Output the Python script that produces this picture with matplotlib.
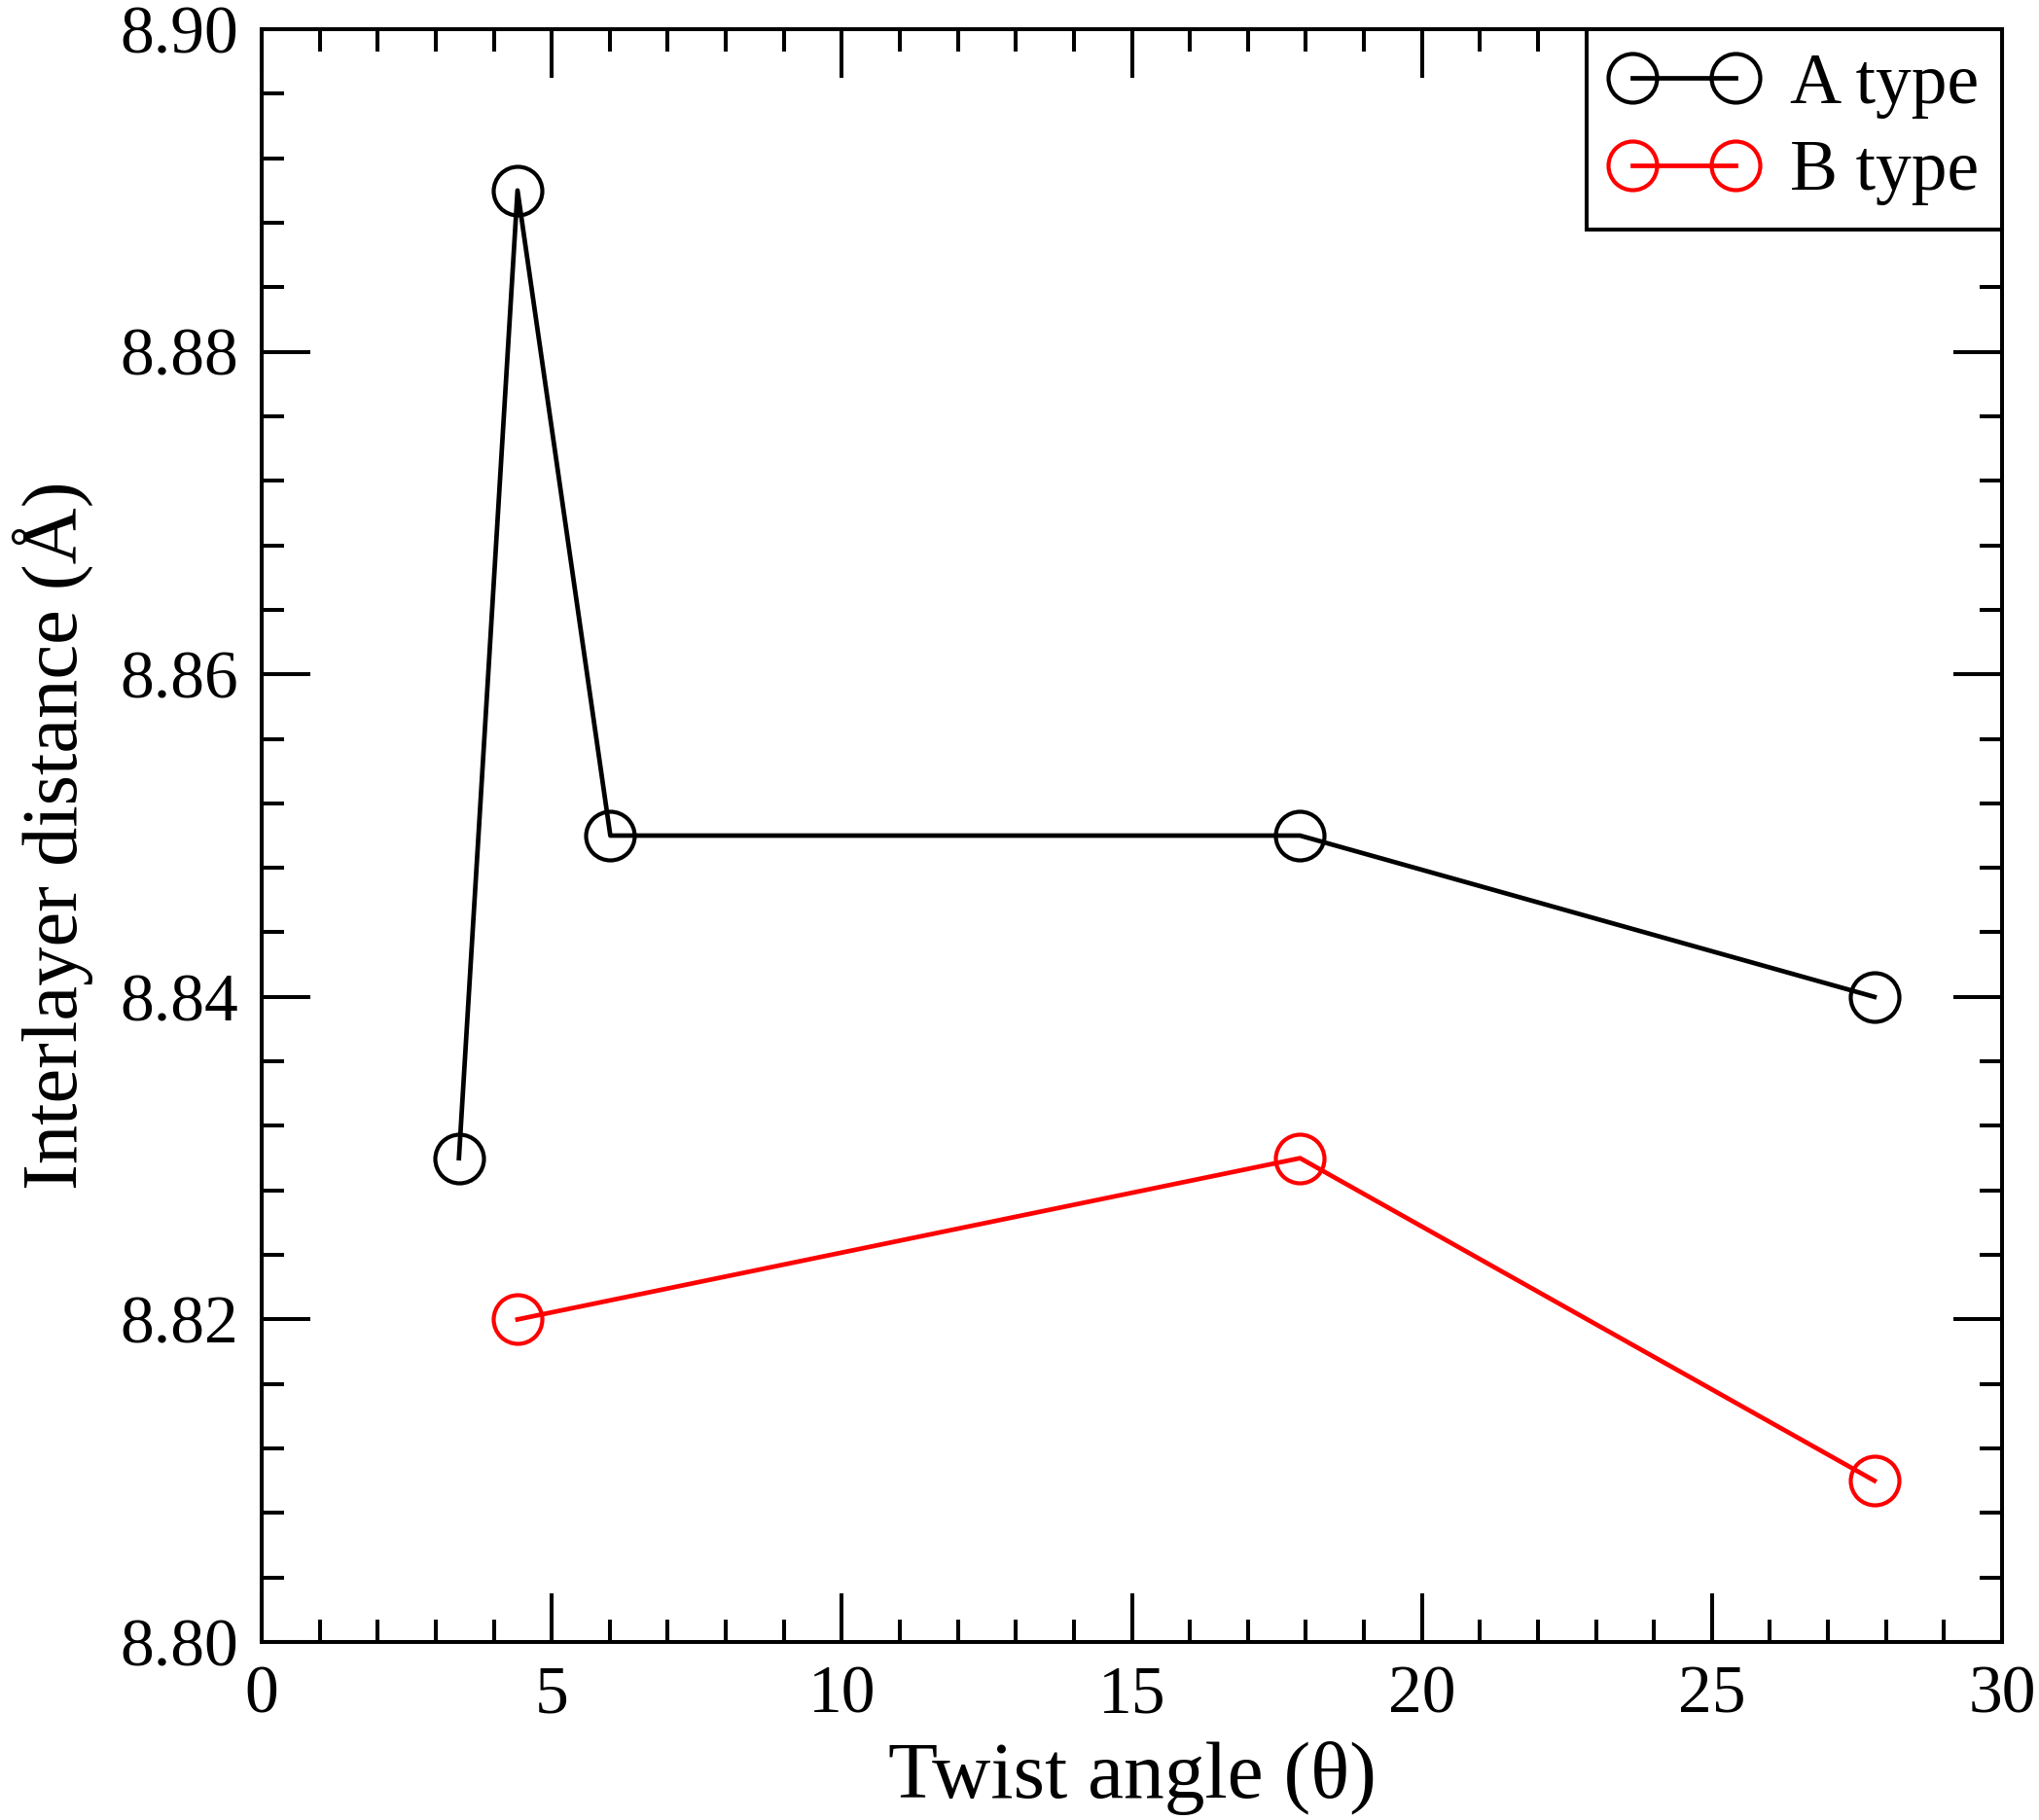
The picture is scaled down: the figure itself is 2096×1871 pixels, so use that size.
import matplotlib
matplotlib.use("Agg")
import matplotlib.pyplot as plt
from matplotlib.ticker import MultipleLocator

# Data
a_angle = [3.40, 4.41, 6.01, 17.90, 27.80]
a_dist = [8.83, 8.89, 8.85, 8.85, 8.84]
b_angle = [4.41, 17.90, 27.80]
b_dist = [8.82, 8.83, 8.81]
labels = ["A type", "B type"]

plt.rcParams['font.family'] = ['Liberation Serif', 'DejaVu Serif']
plt.rcParams['mathtext.fontset'] = 'stix'

W, H, DPI = 2096, 1871, 100
fig = plt.figure(figsize=(W / DPI, H / DPI), dpi=DPI)
ax = fig.add_axes([269 / W, 1 - 1688 / H, (2058 - 269) / W, (1688 - 30) / H])

lw = 3.4
ms = 36
ax.plot(a_angle, a_dist, color='black', lw=lw, marker='o', ms=ms, mfc='none',
        mec='black', mew=3.0, label=labels[0])
ax.plot(b_angle, b_dist, color='#ff0000', lw=lw, marker='o', ms=ms, mfc='none',
        mec='#ff0000', mew=3.0, label=labels[1])

ax.set_xlim(0, 30)
ax.set_ylim(8.80, 8.90)
ax.xaxis.set_major_locator(MultipleLocator(5))
ax.xaxis.set_minor_locator(MultipleLocator(1))
ax.yaxis.set_major_locator(MultipleLocator(0.02))
ax.yaxis.set_minor_locator(MultipleLocator(0.004))
ax.yaxis.set_major_formatter(plt.FuncFormatter(lambda v, p: f"{v:.2f}"))

ax.tick_params(which='both', direction='in', top=True, right=True, width=2.9,
               labelsize=50, pad=17)
ax.tick_params(which='major', length=36)
ax.tick_params(which='minor', length=16.6)
for s in ax.spines.values():
    s.set_linewidth(2.9)

ax.set_xlabel("Twist angle (θ)", fontsize=60, labelpad=11)
ax.set_ylabel("Interlayer distance (Å)", fontsize=58, labelpad=20)

leg = ax.legend(loc='upper right', fontsize=53, numpoints=2, handlelength=2.05,
                handletextpad=0.45, borderpad=0.33, labelspacing=0.3,
                borderaxespad=0.0, fancybox=False, framealpha=1,
                edgecolor='black')
leg.get_frame().set_linewidth(2.9)

fig.savefig("out.png", dpi=DPI)
